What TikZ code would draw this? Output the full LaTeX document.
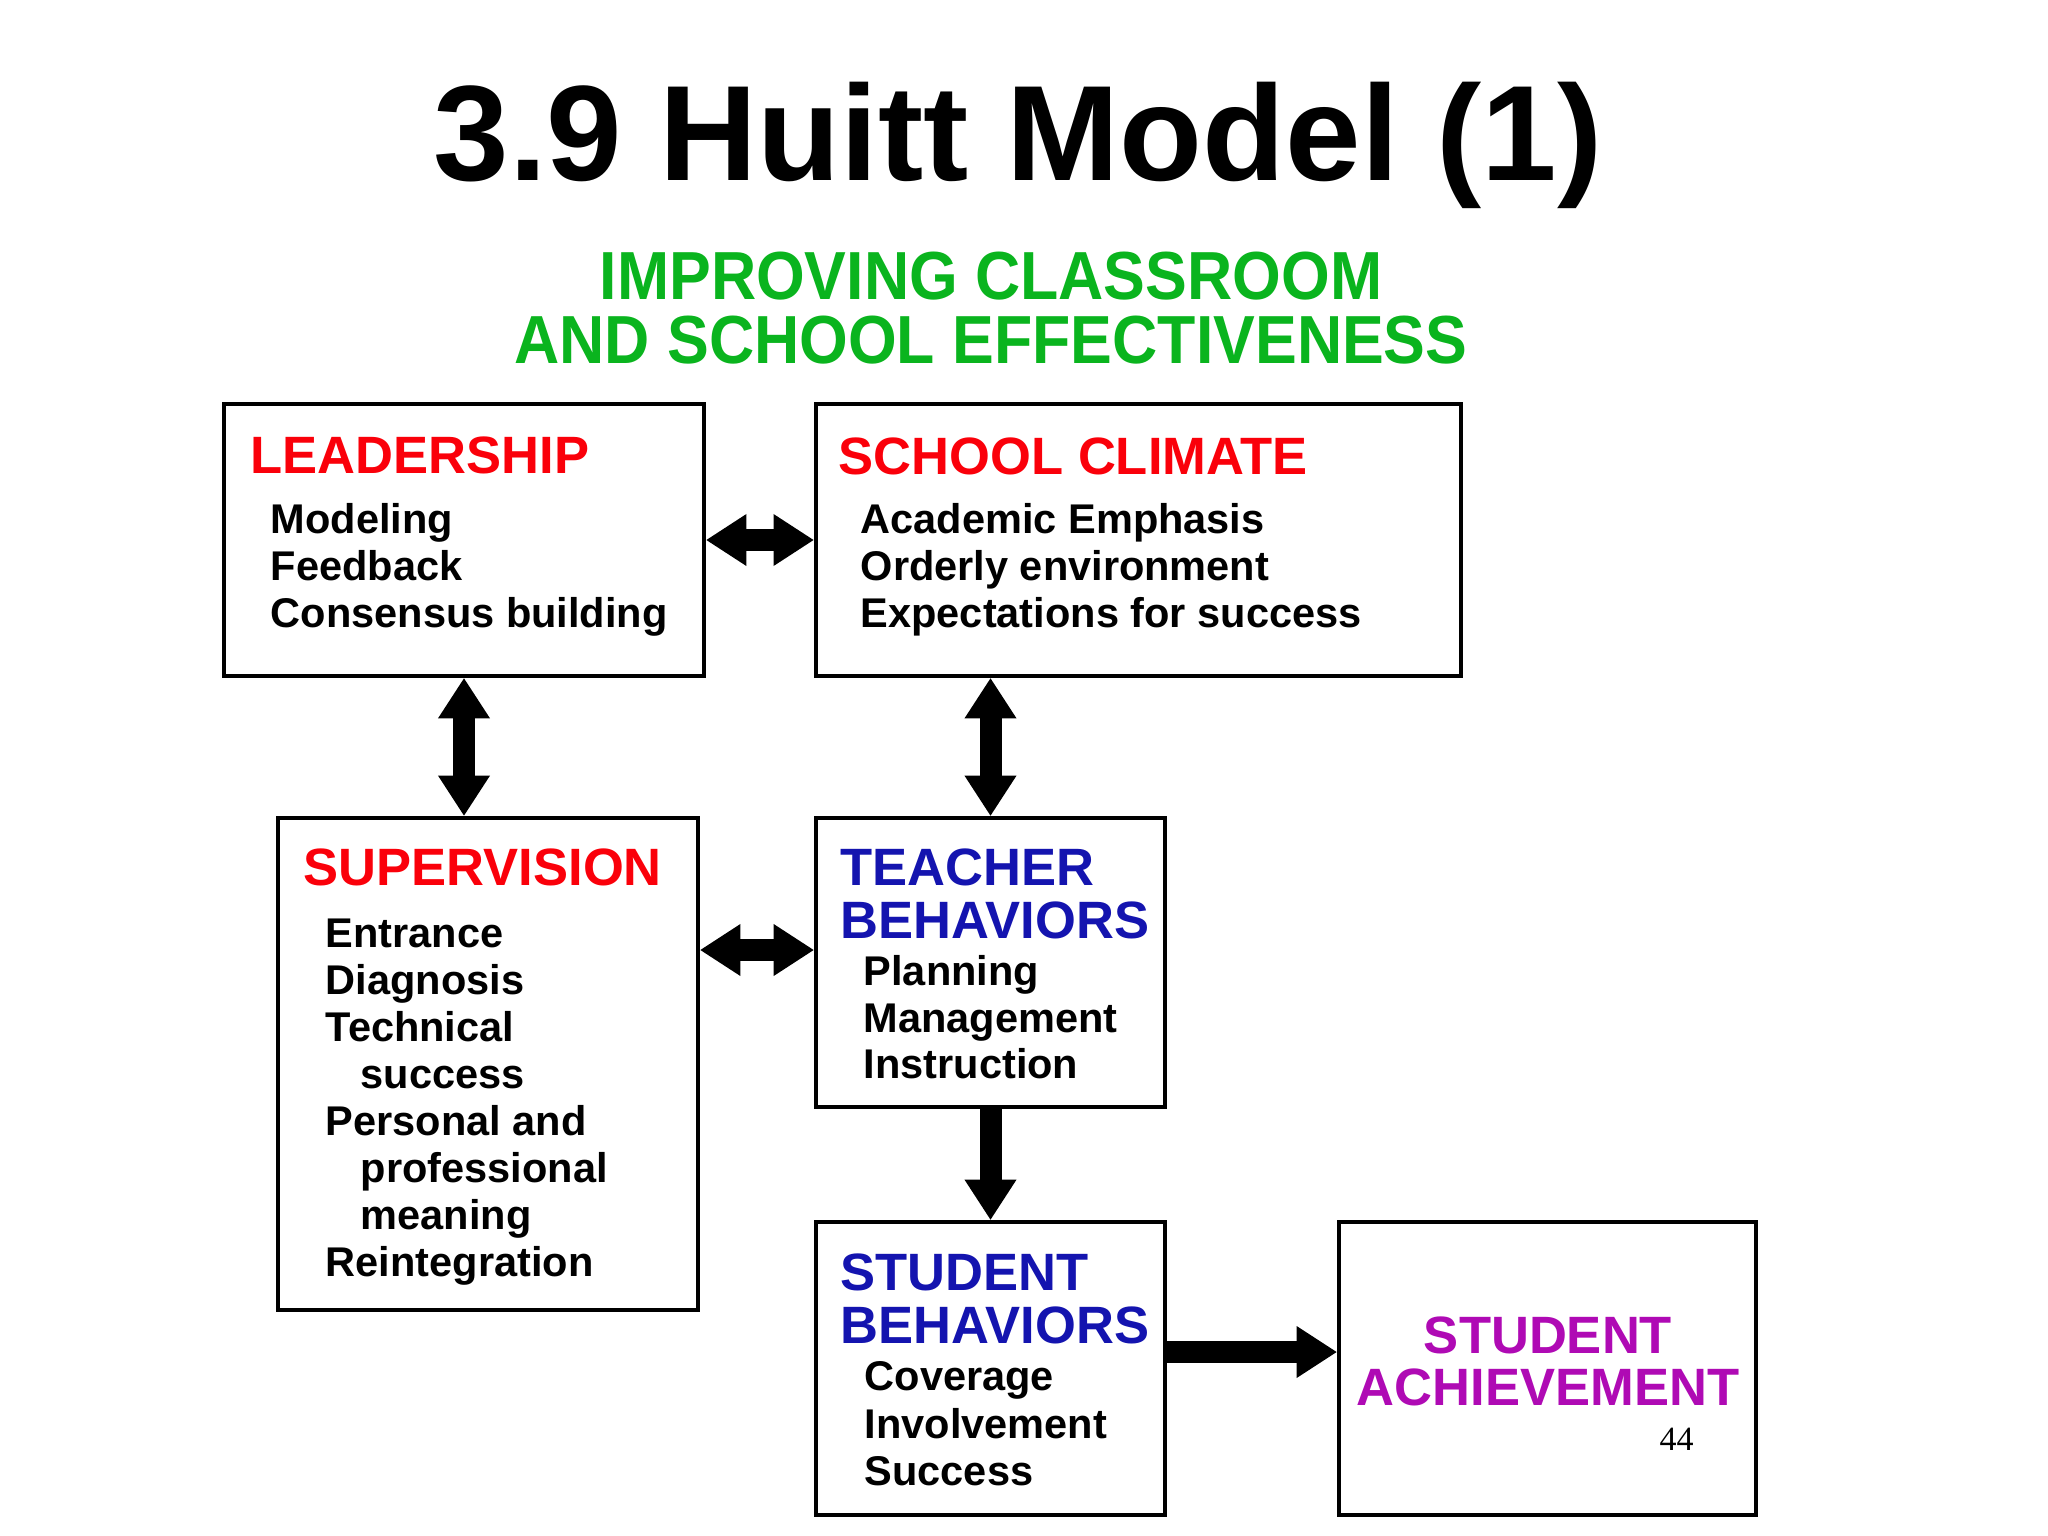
\documentclass[tikz,border=0pt]{standalone}
\usepackage{fontspec}
\setmainfont{Liberation Sans}
\newfontfamily\condfont[FakeStretch=0.92]{Liberation Sans}
\newfontfamily\pgnumfont{Liberation Serif}
\usetikzlibrary{arrows.meta,calc}
\definecolor{hred}{RGB}{250,0,10}
\definecolor{hblue}{RGB}{20,20,175}
\definecolor{hmag}{RGB}{175,10,180}
\definecolor{hgreen}{RGB}{10,180,30}
\tikzset{
  box/.style={draw, line width=0.045cm, rectangle, inner sep=0pt},
  hd/.style={anchor=base west, inner sep=0pt, font=\fontsize{14.94pt}{16pt}\selectfont\bfseries},
  bd/.style={anchor=base west, inner sep=0pt, font=\fontsize{11.81pt}{13pt}\selectfont\bfseries},
  bigtip/.tip={Triangle[length=0.40cm,width=0.52cm,line width=0pt]},
  dbl/.style={line width=0.22cm, bigtip-bigtip},
  sgl/.style={line width=0.22cm, -bigtip},
}
\begin{document}
\begin{tikzpicture}[x=0.01cm,y=-0.01cm]
\fill[white] (0,0) rectangle (2048,1536);
\useasboundingbox (0,0) rectangle (2048,1536);

% title
\node[anchor=base, inner sep=0pt, font=\fontsize{38.6pt}{40pt}\selectfont\bfseries] (title) at (1018,180) {3.9 Huitt Model (1)};
\node[anchor=base, inner sep=0pt, text=hgreen, font=\fontsize{19.35pt}{21pt}\condfont\bfseries] (sub1) at (991,299) {IMPROVING CLASSROOM};
\node[anchor=base, inner sep=0pt, text=hgreen, font=\fontsize{19.35pt}{21pt}\condfont\bfseries] (sub2) at (991,363) {AND SCHOOL EFFECTIVENESS};

% boxes
\node[box, minimum width=4.80cm, minimum height=2.72cm] (lead) at (464,540) {};
\node[box, minimum width=6.45cm, minimum height=2.72cm] (clim) at (1138.5,540) {};
\node[box, minimum width=4.20cm, minimum height=4.92cm] (sup) at (488,1064) {};
\node[box, minimum width=3.49cm, minimum height=2.89cm] (teach) at (990.5,962.5) {};
\node[box, minimum width=3.49cm, minimum height=2.93cm] (sb) at (990.5,1368.5) {};
\node[box, minimum width=4.17cm, minimum height=2.93cm] (ach) at (1547.5,1368.5) {};

% leadership text
\node[hd, text=hred] (leadh) at (250,473) {LEADERSHIP};
\node[bd] (lead1) at (270,533) {Modeling};
\node[bd] (lead2) at (270,580) {Feedback};
\node[bd] (lead3) at (270,627) {Consensus building};

% school climate text
\node[hd, text=hred] (climh) at (838,474) {SCHOOL CLIMATE};
\node[bd] (clim1) at (860,533) {Academic Emphasis};
\node[bd] (clim2) at (860,580) {Orderly environment};
\node[bd] (clim3) at (860,627) {Expectations for success};

% supervision text
\node[hd, text=hred] (suph) at (303,885) {SUPERVISION};
\node[bd] (sup1) at (325,947) {Entrance};
\node[bd] (sup2) at (325,994) {Diagnosis};
\node[bd] (sup3) at (325,1041) {Technical};
\node[bd] (sup4) at (360,1088) {success};
\node[bd] (sup5) at (325,1135) {Personal and};
\node[bd] (sup6) at (360,1182) {professional};
\node[bd] (sup7) at (360,1229) {meaning};
\node[bd] (sup8) at (325,1276) {Reintegration};

% teacher text
\node[hd, text=hblue] (teachh1) at (840,885) {TEACHER};
\node[hd, text=hblue] (teachh2) at (840,938) {BEHAVIORS};
\node[bd] (teach1) at (863,985) {Planning};
\node[bd] (teach2) at (863,1032) {Management};
\node[bd] (teach3) at (863,1078) {Instruction};

% student behaviors text
\node[hd, text=hblue] (sbh1) at (840,1290) {STUDENT};
\node[hd, text=hblue] (sbh2) at (840,1343) {BEHAVIORS};
\node[bd] (sb1) at (864,1390) {Coverage};
\node[bd] (sb2) at (864,1438) {Involvement};
\node[bd] (sb3) at (864,1485) {Success};

% achievement text
\node[anchor=base, inner sep=0pt, text=hmag, font=\fontsize{14.94pt}{16pt}\selectfont\bfseries] (achh1) at (1548,1353) {STUDENT};
\node[anchor=base, inner sep=0pt, text=hmag, font=\fontsize{14.94pt}{16pt}\selectfont\bfseries] (achh2) at (1548,1405) {ACHIEVEMENT};
\node[anchor=base west, inner sep=0pt, font=\fontsize{9.67pt}{11pt}\pgnumfont] (pgnum) at (1659,1450) {44};

% connectors
\coordinate (hA) at (0,950);
\coordinate (hB) at (0,1352);
\draw[dbl] (lead.east) -- (clim.west);
\draw[dbl] (lead.south) -- (sup.north -| lead.south);
\draw[dbl] (clim.south -| teach.north) -- (teach.north);
\draw[dbl] (sup.east |- hA) -- (teach.west |- hA);
\draw[sgl] (teach.south) -- (sb.north);
\draw[sgl] (sb.east |- hB) -- (ach.west |- hB);
\end{tikzpicture}
\end{document}
